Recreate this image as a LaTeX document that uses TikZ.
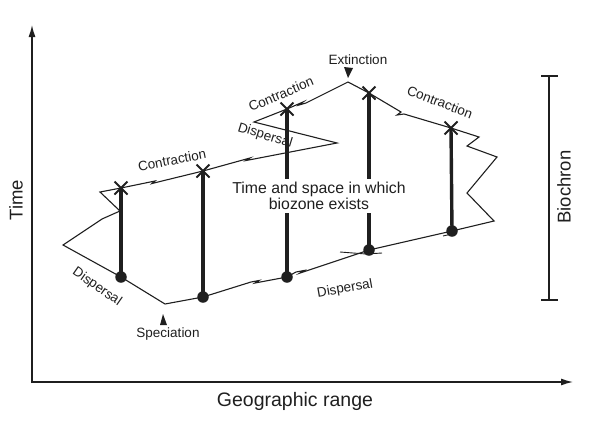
\documentclass[tikz,border=0pt]{standalone}
\usepackage{fontspec}
\setmainfont{Liberation Sans}
\usetikzlibrary{shapes.misc,arrows.meta}
\definecolor{ink}{gray}{0.12}
\tikzset{
  outline/.style={draw=ink, line width=1.1pt, line join=miter},
  bar/.style={draw=ink, line width=3.4pt},
  dotnode/.style={circle, fill=ink, minimum size=11.5pt, inner sep=0pt},
  xnode/.style={cross out, draw=ink, line width=2pt, minimum size=11pt, inner sep=0pt},
  lbl/.style={text=ink, font=\fontsize{13.5}{15}\selectfont, inner sep=0pt},
  biglbl/.style={text=ink, font=\fontsize{18.5}{21}\selectfont, inner sep=0pt},
  axis/.style={draw=ink, line width=1.3pt, -{Latex[length=12pt,width=7pt]}}
}
\begin{document}
\begin{tikzpicture}[x=1pt,y=-1pt]
\useasboundingbox (0,0) rectangle (600,421);
% axes
\coordinate (origin) at (32,383);
\coordinate (ytop) at (32,25);
\coordinate (xend) at (573,382);
\draw[axis] (origin) -- (ytop);
\draw[axis] (31,382) -- (xend);
\node[biglbl, rotate=90] (timelbl) at (16,200) {Time};
\node[biglbl, font=\fontsize{19.5}{22}\selectfont] (geolbl) at (295,401) {Geographic range};

% outline of biozone
\draw[outline]
  (165,304) -- (121,277) -- (63,245) -- (102,219) -- (120,211) -- (100,192)
  -- (121,188) -- (155,181) -- ++(-3,2.5) -- ++(6,-1.5)
  -- (203,171) -- (250,158) -- ++(-4,2.5) -- ++(8,-1.5)
  -- (337,143) -- (254,122) -- (287,109) -- (303,102) -- ++(-4,3) -- ++(7,-2)
  -- (348,82) -- (369,93) -- (401,112) -- ++(-4,3) -- ++(7,-1)
  -- (451,128) -- (479,137) -- (467,146) -- (497,157) -- (467,193) -- (494,221)
  -- (452,231) -- (369,250) -- (300,273) -- ++(4,-2.5) -- ++(-8,1.5)
  -- (287,277) -- (255,283) -- ++(4,-2.5) -- ++(-8,1.5)
  -- (203,297) -- cycle;
% small notches near lower dots
\draw[ink, line width=0.9pt] (340,252) -- (366,254) -- (382,253);
\draw[ink, line width=0.9pt] (443,236) -- (452,234);

% markers
\node[xnode] (x1) at (121,188) {};
\node[xnode] (x2) at (203,171) {};
\node[xnode] (x3) at (287,109) {};
\node[xnode] (x4) at (369,93) {};
\node[xnode] (x5) at (451,128) {};
\node[dotnode] (d1) at (121,277) {};
\node[dotnode] (d2) at (203,297) {};
\node[dotnode] (d3) at (287,277) {};
\node[dotnode] (d4) at (369,250) {};
\node[dotnode] (d5) at (452,231) {};
\draw[bar] (x1.center) -- (d1.center);
\draw[bar] (x2.center) -- (d2.center);
\draw[bar] (x3.center) -- (d3.center);
\draw[bar] (x4.center) -- (d4.center);
\draw[bar] (x5.center) -- (d5.center);

% labels
\node[lbl, rotate=-35] (disp1) at (97,287) {Dispersal};
\node[lbl, rotate=11] (con1) at (172,160) {Contraction};
\node[lbl, rotate=23] (con2) at (281,94) {Contraction};
\node[lbl, rotate=-17] (disp2) at (265,136) {Dispersal};
\node[lbl, rotate=-21] (con3) at (440,102) {Contraction};
\node[lbl, rotate=10] (disp3) at (345,289) {Dispersal};
\node[lbl] (ext) at (358,60) {Extinction};
\node[lbl] (spec) at (168,334) {Speciation};
\node[text=ink, fill=white, font=\fontsize{15.8}{15.5}\selectfont, align=center, inner xsep=1pt, inner ysep=3pt] (mid) at (319,196) {Time and space in which\\biozone exists};

% pointer triangles
\fill[ink] (344,67) -- (353,68) -- (348,78) -- cycle;
\fill[ink] (163,314) -- (167,325) -- (160,325) -- cycle;

% biochron bar
\coordinate (bt) at (549,76);
\coordinate (bb) at (549,300);
\draw[ink, line width=1.1pt] (bt) -- (bb);
\draw[ink, line width=1.1pt] (541,76) -- (558,76);
\draw[ink, line width=1.1pt] (541,300) -- (558,300);
\node[biglbl, rotate=90] (bio) at (564,187) {Biochron};
\end{tikzpicture}
\end{document}
